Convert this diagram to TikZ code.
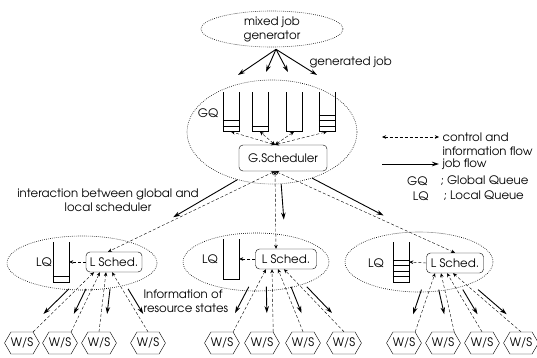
\documentclass[tikz,border=0pt]{standalone}
\usepackage[T1]{fontenc}
\usepackage{avant}
\renewcommand{\familydefault}{\sfdefault}
\usetikzlibrary{arrows.meta,shapes.geometric,shapes.symbols,calc}

\tikzset{
  cluster/.style={draw, line width=0.6pt, dash pattern=on 0.7pt off 1.3pt, ellipse, inner sep=0pt},
  sched/.style={draw, rounded corners=4pt, inner sep=1pt, minimum height=20},
  queue/.style={minimum width=16, minimum height=39, inner sep=0pt},
  wsnode/.style={draw, signal, signal to=west and east, signal pointer angle=120,
    minimum width=29, minimum height=22, inner sep=0pt},
  ctrl/.style={dash pattern=on 3pt off 2pt, {Stealth[length=4pt,width=3.5pt]}-{Stealth[length=4pt,width=3.5pt]}},
  info/.style={dash pattern=on 3pt off 2pt, -{Stealth[length=4pt,width=3.5pt]}},
  job/.style={line width=0.9pt, -{Stealth[length=7pt,width=4.5pt]}},
}

\begin{document}
\begin{tikzpicture}[x=1pt,y=-1pt,font=\fontsize{11.7}{14}\selectfont]
\useasboundingbox (0,0) rectangle (537,358);

% generator
\node[cluster, minimum width=142, minimum height=36, align=center] (gen) at (272,29) {mixed job\\generator};
\coordinate (gout) at ($(gen.south)+(4,2)$);
\foreach \x/\y [count=\i] in {238/75,266/72,288/72,317/75}{
  \coordinate (g\i) at (\x,\y);
  \draw[job] (gout) -- (g\i);
}
\node[anchor=west] (genlab) at (306,62) {generated job};

% global scheduler part
\node[cluster, minimum width=170, minimum height=104] (gcl) at (272,132) {};
\foreach \q/\x in {q1/231,q2/260,q3/294,q4/327}
  \node[queue] (\q) at (\x,112) {};
\node (gqlab) at (208,113) {GQ};
\node[sched, minimum width=88, minimum height=26] (gs) at (283,158) {G.Scheduler};
\coordinate (gst) at ($(gs.north)+(-8,0)$);
\coordinate (gsb) at ($(gs.south)+(-8,0)$);
\foreach \q in {q1,q2,q3,q4}
  \draw[ctrl] (gst) -- (\q.south);

% local clusters
\node[cluster, minimum width=150, minimum height=54] (lcl1) at (82,263) {};
\node[queue] (lq1) at (61,262) {};
\node (lqlab1) at (44,262) {LQ};
\node[sched, minimum width=56] (ls1) at (114,262) {L Sched.};

\node[cluster, minimum width=146, minimum height=58] (lcl2) at (256,262) {};
\node[queue] (lq2) at (231,259) {};
\node (lqlab2) at (210,259) {LQ};
\node[sched, minimum width=61] (ls2) at (286,259) {L Sched.};

\node[cluster, minimum width=148, minimum height=60] (lcl3) at (419,262) {};
\node[queue] (lq3) at (401,262) {};
\node (lqlab3) at (376,263) {LQ};
\node[sched, minimum width=57] (ls3) at (455,263) {L Sched.};

% queues
\foreach \q in {q1,q2,q3,q4,lq1,lq2,lq3}
  \draw (\q.north west) -- (\q.south west) -- (\q.south east) -- (\q.north east);
\foreach \q/\n in {q1/2,q2/1,q4/3,lq1/1,lq3/4}{
  \foreach \k in {1,...,\n}
    \draw ($(\q.south west)+(0,-5.5*\k)$) -- ($(\q.south east)+(0,-5.5*\k)$);
}
\foreach \g in {1,2,3}
  \draw[info] (ls\g.west) -- (lq\g.east);

% global <-> local
\draw[ctrl] (gsb) -- ($(ls1.north)+(-6,0)$);
\draw[ctrl] (gsb) -- ($(ls2.north)+(-10,0)$);
\draw[ctrl] (gsb) -- (ls3.north);
\draw[job] (gcl.234) -- ($(gcl.234)!0.52!(ls1.north)$);
\draw[job] (gcl.280) -- ($(gcl.280)!0.55!(ls2.north)$);
\draw[job] (gcl.311) -- ($(gcl.311)!0.5!(ls3.north)$);
\node[align=center] (intlab) at (108,200) {interaction between global and\\local scheduler};

% workstations
\foreach \g/\xa/\xb/\xc/\xd in {1/22/60/99/148, 2/222/262/303/344, 3/404/443/482/521}{
  \foreach \x [count=\i] in {\xa,\xb,\xc,\xd}
    \node[wsnode] (ws\g\i) at (\x,343) {W/S};
}
\foreach \g in {1,2,3}{
  \foreach \i/\a/\dx/\ox in {1/north east/-20/-8, 2/north east/-14/-6, 3/north/-8/6, 4/north/-2/6}{
    \coordinate (t) at ($(ls\g.south)+(\dx,0)$);
    \draw[info] (ws\g\i.\a) -- (t);
    \draw[job] ($(t)!0.28!(ws\g\i.\a)+(\ox,0)$) -- ($(t)!0.7!(ws\g\i.\a)+(\ox,0)$);
  }
}
\node[align=left, anchor=north west] (infolab) at (140,286) {Information of\\resource states};

% legend
\node[anchor=west] (lgc) at (439,137) {control and};
\node[anchor=west] (lgi) at (439,151) {information flow};
\node[anchor=west] (lgj) at (439,164) {job flow};
\node[anchor=east] (lgq) at (431,181) {GQ};
\node[anchor=west] (lgqt) at (437,181) {; Global Queue};
\node[anchor=east] (llq) at (432,196) {LQ};
\node[anchor=west] (llqt) at (440,196) {; Local Queue};
\draw[ctrl] ($(lgc.west)+(-57,0)$) -- (lgc.west);
\draw[job] ($(lgj.west)+(-57,0)$) -- (lgj.west);

\end{tikzpicture}
\end{document}
